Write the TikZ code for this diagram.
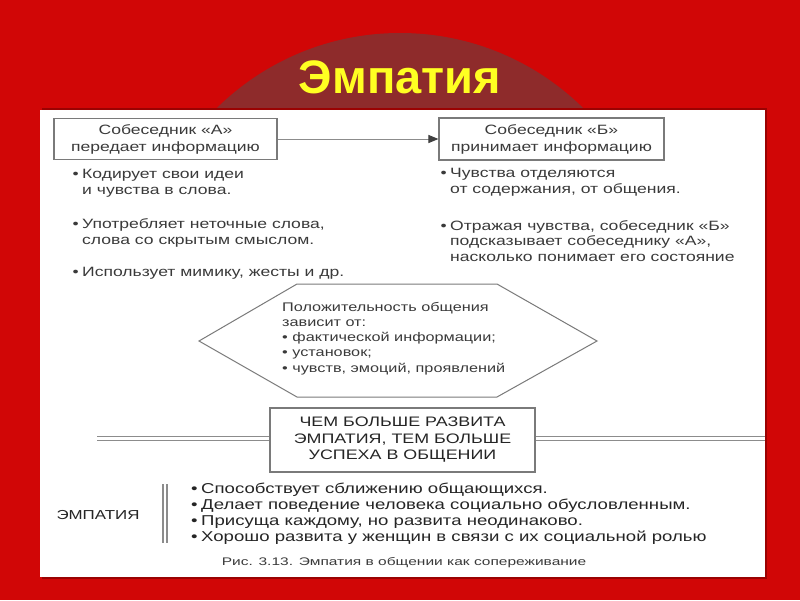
\documentclass[tikz,border=0pt]{standalone}
\usepackage{fontspec}
\setmainfont{Liberation Sans}
\newfontfamily\wf[FakeStretch=1.3]{Liberation Sans}
\newfontfamily\capf[FakeStretch=1.41]{Liberation Sans}
\usetikzlibrary{arrows.meta}
\definecolor{slidered}{HTML}{D10606}
\definecolor{shadowred}{HTML}{9A0202}
\definecolor{arcred}{HTML}{8E2B2B}
\definecolor{titley}{HTML}{FFFF22}
\definecolor{txt}{HTML}{3A3A3A}
\definecolor{txtdark}{HTML}{252525}
\definecolor{linegray}{HTML}{8C8C8C}
\definecolor{boxgray}{HTML}{7A7A7A}
\tikzset{
  infobox/.style={draw=boxgray, line width=1.1pt, fill=white, align=center, text=txt,
    font=\wf\fontsize{13.5}{17}\selectfont, inner sep=0pt},
  bullettext/.style={anchor=base west, align=left, text=txt, inner sep=0pt,
    font=\wf\fontsize{13.5}{15.5}\selectfont},
  thinline/.style={draw=linegray, line width=1pt},
  resultbox/.style={draw=boxgray, line width=1.1pt, fill=white, align=center, text=txtdark,
    font=\wf\fontsize{13.75}{16.5}\selectfont, inner sep=0pt, minimum width=265pt, minimum height=64pt}
}
\newcommand{\bul}{\makebox[0pt][r]{•\hspace{3.5pt}}}
\begin{document}
\begin{tikzpicture}[x=1pt,y=-1pt]
\useasboundingbox (0,0) rectangle (800,600);
\fill[slidered] (0,0) rectangle (800,600);
\begin{scope}
  \clip (0,0) rectangle (800,110);
  \fill[arcred] (400,294) circle (261);
\end{scope}
\fill[shadowred] (42,108) rectangle (767,579);
\fill[white] (40,110) rectangle (765,577);

\node[anchor=base, text=titley, font=\fontsize{47}{47}\selectfont\bfseries] (title) at (400,93) {Эмпатия};

% top boxes
\node[infobox, minimum width=223pt, minimum height=41pt] (boxA) at (165.5,139) {Собеседник «А»\\передает информацию};
\node[infobox, minimum width=225pt, minimum height=42pt] (boxB) at (551.5,139) {Собеседник «Б»\\принимает информацию};
\draw[thinline, -{Triangle[length=10pt,width=8pt,color=black!75]}] (boxA.east) -- (boxB.west);

% left bullets (anchor = baseline of last line)
\node[bullettext] (la) at (82,194) {\bul Кодирует свои идеи\\и чувства в слова.};
\node[bullettext] (lb) at (82,244) {\bul Употребляет неточные слова,\\слова со скрытым смыслом.};
\node[bullettext] (lc) at (82,276) {\bul Использует мимику, жесты и др.};

% right bullets
\node[bullettext] (ra) at (450,193) {\bul Чувства отделяются\\от содержания, от общения.};
\node[bullettext] (rb) at (450,261) {\bul Отражая чувства, собеседник «Б»\\подсказывает собеседнику «А»,\\насколько понимает его состояние};

% hexagon
\coordinate (hL) at (199,341);
\coordinate (hTL) at (297,284);
\coordinate (hTR) at (497,284);
\coordinate (hR) at (597,341);
\coordinate (hBR) at (497,397);
\coordinate (hBL) at (297,397);
\draw[draw=boxgray, line width=1pt] (hL) -- (hTL) -- (hTR) -- (hR) -- (hBR) -- (hBL) -- cycle;
\node[bullettext, font=\wf\fontsize{12.5}{15.2}\selectfont] (hex) at (282,372)
  {Положительность общения\\зависит от:\\• фактической информации;\\• установок;\\• чувств, эмоций, проявлений};

% result box and double lines
\node[resultbox] (res) at (402.5,440) {ЧЕМ БОЛЬШЕ РАЗВИТА\\ЭМПАТИЯ, ТЕМ БОЛЬШЕ\\УСПЕХА В ОБЩЕНИИ};
\coordinate (l1) at (97,436);
\coordinate (l2) at (97,440);
\coordinate (r1) at (765,436);
\coordinate (r2) at (765,440);
\draw[thinline] (l1) -- (l1 -| res.west);
\draw[thinline] (l2) -- (l2 -| res.west);
\draw[thinline] (r1 -| res.east) -- (r1);
\draw[thinline] (r2 -| res.east) -- (r2);

% bottom section
\node[text=txtdark, font=\wf\fontsize{13}{16}\selectfont, inner sep=0pt] (emp) at (98,515) {ЭМПАТИЯ};
\coordinate (v1t) at (163,484);
\coordinate (v1b) at (163,543);
\coordinate (v2t) at (167,484);
\coordinate (v2b) at (167,543);
\draw[draw=linegray, line width=1.2pt] (v1t) -- (v1b);
\draw[draw=linegray, line width=1.2pt] (v2t) -- (v2b);
\node[bullettext, text=txtdark, font=\wf\fontsize{14.3}{16}\selectfont] (bot) at (201,541)
  {\bul Способствует сближению общающихся.\\\bul Делает поведение человека социально обусловленным.\\\bul Присуща каждому, но развита неодинаково.\\\bul Хорошо развита у женщин в связи с их социальной ролью};

\node[text=txt, font=\capf\fontsize{11}{11}\selectfont, inner sep=0pt] (cap) at (404,563) {Рис. 3.13. Эмпатия в общении как сопереживание};
\end{tikzpicture}
\end{document}
